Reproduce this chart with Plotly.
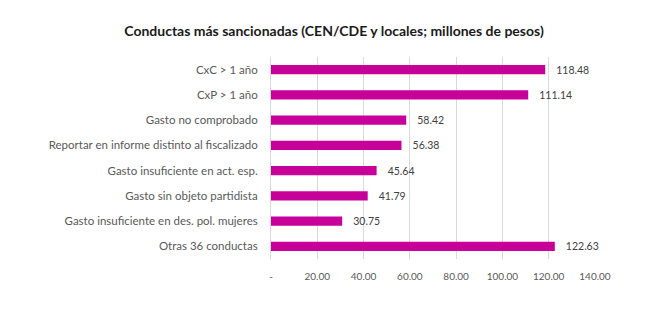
import plotly.graph_objects as go

categories = ["CxC > 1 año", "CxP > 1 año", "Gasto no comprobado",
              "Reportar en informe distinto al fiscalizado",
              "Gasto insuficiente en act. esp.", "Gasto sin objeto partidista",
              "Gasto insuficiente en des. pol. mujeres", "Otras 36 conductas"]
values = [118.48, 111.14, 58.42, 56.38, 45.64, 41.79, 30.75, 122.63]
tick_vals = [0, 20, 40, 60, 80, 100, 120, 140]
tick_text = ["-", "20.00", "40.00", "60.00", "80.00", "100.00", "120.00", "140.00"]

FONT = "Lato"

fig = go.Figure(go.Bar(
    x=values, y=categories, orientation="h",
    marker=dict(color="#C8009A", line=dict(width=0)),
    text=values, texttemplate="   %{x:.2f}", textposition="outside",
    constraintext="none",
    textfont=dict(family=FONT, size=10.5, color="#404040"),
    cliponaxis=False, width=0.37,
))

fig.update_layout(
    width=670, height=324,
    margin=dict(l=271, r=75, t=57, b=65),
    paper_bgcolor="white", plot_bgcolor="white",
    title=dict(text="Conductas más sancionadas (CEN/CDE y locales; millones de pesos)",
               x=334 / 670, xref="container", xanchor="center",
               y=1 - 31 / 324, yref="container", yanchor="middle",
               font=dict(family=FONT, size=14, color="#1a1a1a", weight="bold")),
    showlegend=False,
    xaxis=dict(range=[0, 140], tickvals=tick_vals, ticktext=tick_text,
               showgrid=True, gridcolor="#d9d9d9", gridwidth=1,
               zeroline=False, showline=False, ticks="outside", ticklen=8,
               tickcolor="white",
               tickfont=dict(family=FONT, size=10, color="#595959")),
    yaxis=dict(autorange="reversed", showgrid=False, zeroline=False,
               showline=True, linecolor="#d9d9d9", linewidth=1,
               ticks="outside", ticklen=10, tickcolor="white",
               tickfont=dict(family=FONT, size=11.5, color="#595959")),
)

fig.write_html("out.html")
